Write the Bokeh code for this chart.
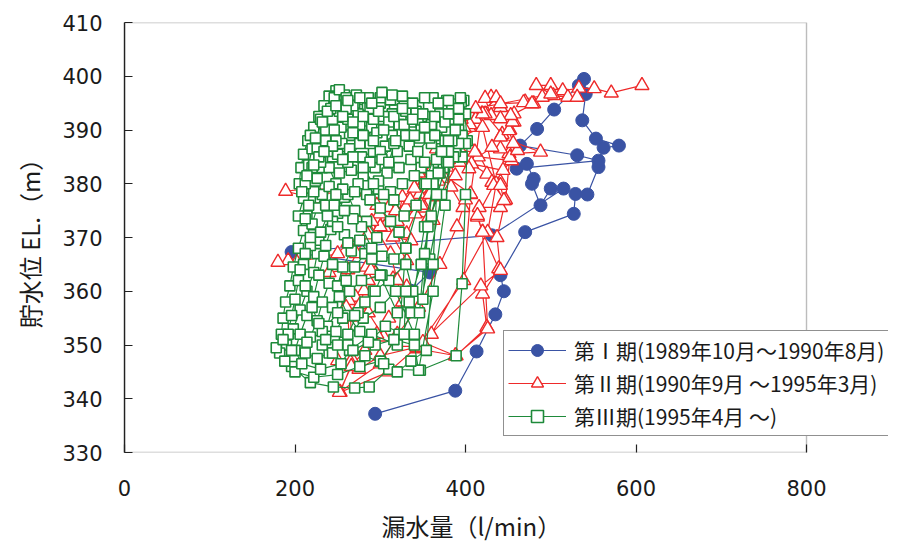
from bokeh.plotting import figure
from bokeh.models import Range1d, FixedTicker, Legend, LegendItem, BoxAnnotation, Title
from bokeh.embed import file_html
from bokeh.resources import INLINE

# ---------------- data ----------------
x_ticks = [0, 200, 400, 600, 800]
y_ticks = [330, 340, 350, 360, 370, 380, 390, 400, 410]
x_min, x_max = 0, 800
y_min, y_max = 330, 410

x_title = "漏水量（l/min）"
y_title = "貯水位 EL.（m）"
labels = ["第Ⅰ期(1989年10月～1990年8月)",
          "第Ⅱ期(1990年9月 ～1995年3月)",
          "第Ⅲ期(1995年4月 ～)"]

# Period I (leakage l/min, reservoir level m)
blue_x = [294, 388, 413, 435, 445, 441, 470, 527, 529, 543, 556, 562, 580, 553, 537, 541, 539, 533,
          504, 484, 464, 531, 556, 460, 472, 480, 478, 488, 500, 515, 431, 196, 358, 336]
blue_y = [337.2, 341.5, 348.8, 355.7, 360.0, 363.0, 371.0, 374.4, 378.1, 378.0, 383.1, 386.7, 387.1,
          388.4, 391.8, 396.7, 399.5, 398.3, 393.8, 390.2, 387.1, 385.3, 384.3, 382.8, 383.7, 380.9,
          380.0, 376.0, 379.1, 379.1, 370.4, 367.3, 363.5, 360.1]

# Period II
red_x = [607, 571, 551, 533, 514, 500, 483, 503, 520, 531, 470, 480, 457, 441, 430, 423, 430, 423, 443, 457,
         452, 441, 488, 451, 441, 431, 415, 454, 444, 407, 425, 441, 431, 446, 441, 416, 414, 420, 439, 420,
         425, 389, 343,
         398, 406, 419, 436,
         412, 404, 399, 394, 411, 404, 373, 378, 362, 383, 397, 406, 373, 352, 368, 357, 362, 341, 331, 336,
         315, 331, 315, 331, 294, 286, 281, 271, 263, 265, 268, 253,
         310, 360, 426, 436,
         420, 398, 386, 393, 380, 372, 388, 360, 346, 352, 330, 310, 299, 305, 288, 262, 250, 202, 192, 180,
         240, 284, 289, 276, 262, 265, 250, 275, 300, 343, 418, 441, 437, 447, 452, 461, 456, 451, 455, 453,
         441, 420, 441, 468, 478, 490, 500,
         412, 405, 395, 392, 383, 375, 366, 362, 345, 340, 326, 320, 300, 285, 272, 262, 255, 260, 286, 304,
         330, 350, 388, 426, 420, 414, 433, 441, 445,
         398, 390, 384, 376, 368, 358, 348, 335, 318, 296, 270, 240, 210, 189, 226, 290, 312, 320, 326, 310,
         296, 282, 266, 252, 300, 320, 345, 370, 390, 400]
red_y = [398.3, 396.9, 397.7, 397.8, 397.3, 398.3, 398.3, 396.4, 396.1, 396.1, 395.2, 394.9, 393.0, 394.2,
         396.1, 395.9, 392.7, 393.0, 389.2, 391.5, 390.0, 388.7, 385.9, 385.6, 386.5, 386.8, 385.0, 384.3,
         382.5, 383.7, 381.8, 380.3, 380.3, 376.9, 375.6, 375.6, 373.8, 371.0, 364.2, 359.5, 353.3, 348.0,
         349.3,
         362, 378, 393, 396,
         392.0, 390.5, 388.0, 386.2, 385.9, 382.8, 386.2, 383.1, 383.1, 379.4, 375.6, 378.1, 381.8, 380.6,
         377.6, 373.8, 373.2, 374.4, 370.7, 369.4, 370.1, 365.7, 362.3, 360.8, 363.3, 362.0, 360.1, 358.9,
         358.3, 355.2, 347.1, 341.2,
         345.0, 352.0, 371.0, 380.0,
         390.5, 389.0, 387.0, 384.0, 384.5, 381.0, 381.5, 379.0, 378.0, 375.5, 375.6, 375.6, 374.4, 371.9,
         371.0, 369.0, 367.0, 365.4, 365.7, 365.4, 363.5, 364.5, 363.9, 357.5, 355.8, 346.8, 347.1, 345.5,
         348.0, 349.6, 361.0, 363.9, 370.0, 377.0, 384.9, 386.2, 387.5, 389.9, 391.5, 392.7, 392.1, 393.0,
         394.9, 395.1, 394.9, 396.1, 396.7,
         394, 391, 392, 389, 388.2, 386, 386.5, 383, 382, 379.2, 377.5, 373, 372, 370.5, 367, 364, 361, 357,
         356, 351.5, 350.5, 350.5, 348, 353, 371, 374.1, 379.7, 379.7, 376.9,
         390.5, 388.5, 385, 384, 380.5, 378, 376, 377, 375, 376, 378.5, 379, 379, 378.6, 377.2, 373, 367,
         362, 358, 355, 352, 349, 346, 341.2, 346.5, 352, 357, 365, 372, 377]

# Period III
green_x = [396, 390, 378, 362, 345, 330, 318, 305, 300, 290, 276, 264, 255, 244, 232, 224, 218, 214, 220, 226,
           222, 214, 206, 198, 190, 182, 196, 218, 245, 270, 287, 310, 347, 389, 396, 400, 402, 398,
           395, 384, 370, 356, 342, 328, 314, 300, 285, 270, 258, 248, 240, 234, 228, 222, 215, 210, 207, 205,
           210, 204, 210, 204, 198, 194, 189, 186, 184, 178, 188, 200, 222, 250, 276, 300, 322, 330, 352, 370,
           384,
           375, 360, 348, 336, 322, 310, 296, 282, 268, 254, 244, 236, 228, 220, 216, 226, 232, 226, 220, 228,
           234, 228, 222, 214, 206, 200, 208, 230, 254, 264, 290, 320, 336, 352, 368, 378, 390,
           400, 392, 384, 372, 360, 346, 334, 320, 306, 292, 278, 264, 250, 240, 248, 258, 250, 242, 236, 244,
           240, 232, 226, 218, 212, 226, 240, 258, 280, 300, 318, 340, 358, 372, 388, 396,
           400, 386, 374, 360, 348, 336, 322, 308, 294, 280, 266, 252, 240, 236, 244, 258, 266, 256, 250, 244,
           238, 232, 244, 262, 274, 292, 310, 330, 338, 350, 356, 378, 392,
           394, 380, 368, 352, 338, 326, 312, 300, 288, 274, 262, 252, 246, 252, 260, 268, 280, 292, 304, 314,
           300, 288, 274, 262, 270, 284, 296, 282, 270, 260, 252, 262, 276, 294, 316, 340, 345, 362, 376, 386,
           392, 380, 366, 352, 340, 326, 312, 298, 284, 270, 256, 246, 250, 262, 276, 290, 302, 294, 282, 270,
           256, 248, 262, 282, 304, 320, 336, 354, 362, 366, 376,
           384, 372, 358, 344, 330, 316, 302, 288, 276, 262, 248, 238, 230, 222, 216, 212, 220, 226, 218, 230,
           242, 260, 272, 286, 298, 310, 318, 310, 298, 288, 300, 312, 322, 330, 316, 302, 290, 278, 268, 258,
           248, 238, 230, 218, 210, 204, 200, 196, 192, 186, 196, 214, 232, 250, 264, 278, 300, 320, 334, 348,
           360, 370, 380,
           388, 376, 364, 352, 340, 328, 316, 304, 292, 280, 268, 256, 246, 236, 228, 222, 214, 208, 212, 218,
           212, 206, 212, 220, 228, 236, 250, 268, 286, 306, 328, 330, 346, 352, 362, 372,
           380, 368, 354, 342, 328, 316, 304, 292, 280, 268, 256, 244, 234, 224, 232, 238, 248, 262, 276, 290,
           302, 314, 326, 338, 350, 364, 380, 392]
green_y = [385, 392, 395.5, 396, 394.5, 393.5, 395.6, 394, 392, 390.5, 391, 389, 387.5, 385, 383, 380.5, 377,
           374, 370.5, 367, 363.5, 360, 356.5, 353, 350, 348.5, 346, 343, 342.2, 342, 342.2, 345.5, 345.3,
           348, 361.4, 378, 388, 395.5,
           395.2, 394, 393, 392.5, 393.5, 395, 393, 395, 394.5, 395, 396.5, 397.3, 396.3, 394.5, 392.5, 390.5,
           388, 385.5, 383, 380, 377.3, 374, 371.3, 368, 364.5, 361, 358, 355, 352, 349.5, 347, 345, 344,
           344.5, 346, 347, 352, 368, 380, 388, 392,
           390, 391, 390, 391.5, 391, 390.5, 389.5, 388.5, 389.5, 390.5, 392, 390, 388, 386.5, 383.5, 381,
           378, 375.5, 372.5, 369.5, 366.5, 363, 359, 355.5, 352, 349, 346.5, 345.5, 346.5, 349, 352, 350,
           356, 372, 384, 390, 393,
           393, 390, 388, 386.5, 387.5, 388.5, 387, 386, 387, 386, 385, 386.5, 385.5, 383, 380, 377.5, 374.5,
           371.5, 368.5, 365, 361.5, 358, 354.5, 351.5, 348.5, 347.5, 348.5, 350.5, 355, 357, 360, 352, 366,
           378, 386, 389,
           387.5, 385, 383, 381.5, 383, 384.5, 383, 382, 383, 381.5, 382.5, 382, 379.5, 376, 373, 370.5, 367.5,
           364.5, 361, 357, 353.5, 350, 348.5, 352, 356, 360, 362, 365, 360, 358.5, 372, 384, 392,
           396, 395.5, 395, 396, 395, 396.3, 395.6, 396, 394, 393, 392, 393.5, 396, 397.5, 396, 394.5, 392.5,
           392, 392.5, 389, 386, 384, 380, 378, 375, 373, 370, 367, 364.5, 362, 359, 355.5, 352.5, 350, 351,
           350, 345.3, 360, 376, 388,
           387.5, 386, 384.5, 384, 381.5, 380, 378.5, 379, 378, 378.5, 379, 376, 372, 369, 369.5, 366, 363,
           360, 358, 355.5, 355, 352.5, 350, 348, 346.5, 345, 347, 349, 365, 378, 388,
           388, 390.5, 388.5, 386, 389, 387.5, 384.5, 387.5, 387.5, 384, 388, 386, 384, 378.5, 376, 380, 383,
           386.5, 389, 392, 394, 394, 396.5, 396, 393.5, 391.5, 388, 384, 380.5, 377, 375.5, 373, 371, 368,
           366, 366.5, 368, 372, 373.5, 375, 378, 374, 371, 368.5, 365, 362, 358.5, 355.5, 352, 351, 349,
           350.5, 352.5, 356, 360, 362, 363, 356, 358, 365, 374, 382, 388,
           390, 391.5, 389, 390.5, 389, 391, 392.5, 390, 388, 389, 391.5, 392.5, 390, 388, 385, 383.5, 381.5,
           378.5, 373.5, 370, 367, 364, 361, 357, 354, 351, 350, 349, 350.5, 353.5, 352, 360, 356, 367, 380,
           386,
           384, 382, 380, 376, 374, 377, 378, 380, 383, 385, 384.5, 387, 386, 388.5, 391.5, 393.5, 394.5,
           395.5, 396, 395, 397, 396.5, 394, 392, 393, 392.5, 393, 394]

BLUE = "#3A53A4"
RED = "#EE2A2A"
GREEN = "#1E8A3A"
TXT = "#1a1a1a"
FRAME = "#222222"

# layout: the plotting box spans 682 px for 0..800; the canvas frame is widened to the right
# so the legend (which sticks out past the box, as in the reference) is not clipped.
W, H = 898, 551
BL, BR, BT, BB = 124, 10, 22, 99
box_px = 682
frame_px = W - BL - BR
x_end = x_max * frame_px / box_px

p = figure(width=W, height=H, x_range=Range1d(x_min, x_end), y_range=Range1d(y_min, y_max),
           output_backend="svg", toolbar_location=None,
           min_border_left=BL, min_border_right=BR, min_border_top=BT, min_border_bottom=BB)

p.xgrid.visible = False
p.ygrid.visible = False
p.outline_line_color = None
p.background_fill_color = "white"
p.border_fill_color = "white"

for ax in (p.xaxis[0], p.yaxis[0]):
    ax.axis_line_color = FRAME
    ax.axis_line_width = 1.4
    ax.major_tick_in = 8
    ax.major_tick_out = 0
    ax.major_tick_line_color = FRAME
    ax.major_tick_line_width = 1.2
    ax.minor_tick_line_color = None
    ax.major_label_text_font = "DejaVu Sans"
    ax.major_label_text_font_size = "21px"
    ax.major_label_text_color = TXT
    ax.axis_label_text_font = "Noto Sans CJK JP"
    ax.axis_label_text_font_size = "24px"
    ax.axis_label_text_font_style = "normal"
    ax.axis_label_text_color = TXT

p.xaxis.axis_line_color = None
p.xaxis.ticker = FixedTicker(ticks=x_ticks)
p.yaxis.ticker = FixedTicker(ticks=y_ticks)
p.yaxis.axis_label = y_title
p.xaxis.major_label_standoff = 27
p.yaxis.major_label_standoff = 22
p.yaxis.axis_label_standoff = 12

# x title centred under the 0..800 box (not under the widened frame)
xt = Title(text=x_title, align="left", offset=box_px / 2 - 84, standoff=15,
           text_font="Noto Sans CJK JP", text_font_size="24px", text_font_style="normal",
           text_color=TXT)
p.add_layout(xt, "below")

bl = p.line(blue_x, blue_y, line_color=BLUE, line_width=1.2)
bs = p.scatter(blue_x, blue_y, marker="circle", size=13, fill_color=BLUE, line_color=BLUE)
rl = p.line(red_x, red_y, line_color=RED, line_width=1.2)
rs = p.scatter(red_x, red_y, marker="triangle", size=14, fill_color="white", line_color=RED, line_width=1.4)
gl = p.line(green_x, green_y, line_color=GREEN, line_width=1.2)
gs = p.scatter(green_x, green_y, marker="square", size=10, fill_color="white", line_color=GREEN, line_width=1.6)

box = BoxAnnotation(left=x_min, right=x_max, bottom=y_min, top=y_max,
                    fill_alpha=0, line_color=FRAME, line_width=1.4)
p.add_layout(box)

legend = Legend(items=[LegendItem(label=labels[0], renderers=[bl, bs]),
                       LegendItem(label=labels[1], renderers=[rl, rs]),
                       LegendItem(label=labels[2], renderers=[gl, gs])],
                location=(379, 16))
legend.border_line_color = FRAME
legend.border_line_width = 1.4
legend.background_fill_color = "white"
legend.background_fill_alpha = 1.0
legend.label_text_font = "Noto Sans CJK JP"
legend.label_text_font_size = "21px"
legend.label_text_color = TXT
legend.glyph_width = 58
legend.glyph_height = 30
legend.label_height = 30
legend.label_standoff = 8
legend.spacing = 3
legend.padding = 4
legend.margin = 0
p.add_layout(legend, "center")

open("out.html", "w").write(file_html(p, INLINE))
